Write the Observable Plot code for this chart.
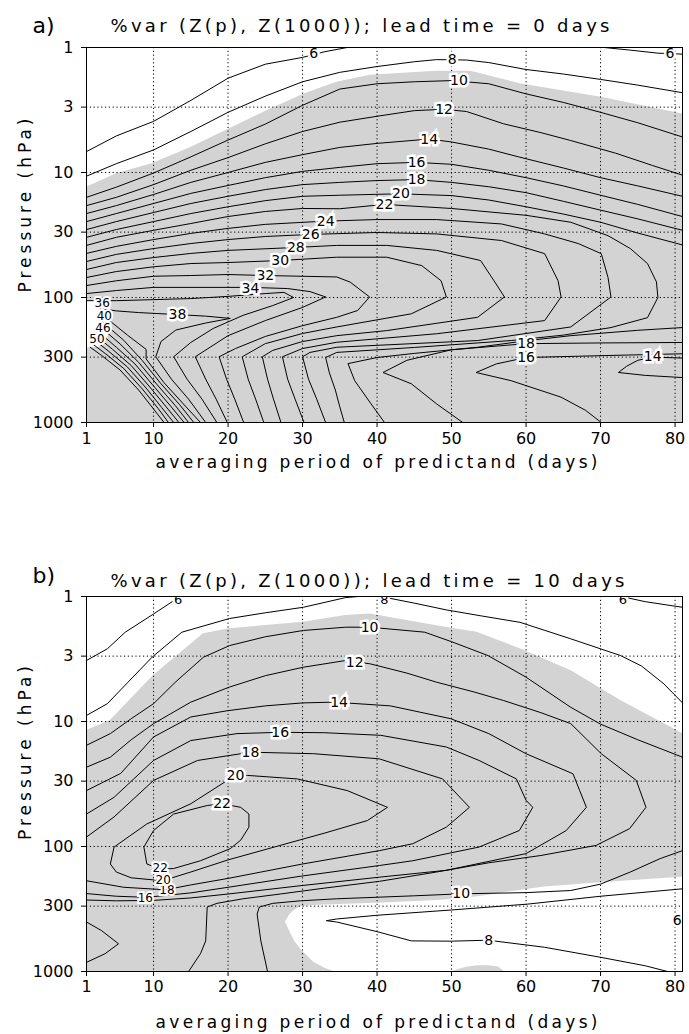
<!DOCTYPE html>
<html><head><meta charset="utf-8">
<script src="https://cdn.jsdelivr.net/npm/d3@7"></script>
<script src="https://cdn.jsdelivr.net/npm/@observablehq/plot@0.6"></script>
<style>
body{margin:0;background:#fff;}
#chart svg{display:block;}
</style></head><body><div id="chart"></div>
<script>
// ---------- axes ----------
const xTicks = [1,10,20,30,40,50,60,70,80];
const yTicks = [1,3,10,30,100,300,1000];
const xGrid = [10,20,30,40,50,60,70,80];
const yGrid = [3,10,30,100,300];
const titleA = "%var (Z(p), Z(1000)); lead time = 0 days";
const titleB = "%var (Z(p), Z(1000)); lead time = 10 days";
const xLabel = "averaging period of predictand (days)";
const yLabel = "Pressure (hPa)";

// ---------- panel a: shading (x, p) ----------
const aGreyTop = [[1,13.1],[5.1,10.2],[9.8,8.5],[15,6.3],[20.2,4.47],[25.3,3.19],[30.2,2.35],[34.6,1.9],[39.1,1.67],[48,1.55],[52.6,1.55],[59.2,1.95],[70.1,2.5],[81,3.4]];
const aWhiteZone = [[106,1],[108,3.5],[112,4.2],[150,4.4],[183,4.4],[220,3.6],[251,2.7],[252,1]]; // [p, x right]

// ---------- panel a: contour lines [x, p] ----------
const a06_1 = [[1,6.8],[5,5.1],[10,3.9],[15,2.65],[20,1.76],[25,1.36],[30,1.2],[33,1.08],[36,1.0]];
const a06_2 = [[70.5,1.0],[74,1.05],[77.7,1.11],[81,1.13]];
const a08 = [[1,10.7],[5,8.5],[10,6.6],[15,4.7],[20,3.3],[25,2.45],[30,1.88],[35,1.58],[40,1.42],[45,1.3],[48,1.25],[52,1.26],[55,1.32],[60,1.5],[65,1.63],[70,1.8],[75,2.0],[81,2.3]];
const a10 = [[1,15.8],[5,13.1],[10,10.1],[15,7.5],[20,5.5],[25,4.1],[30,2.9],[35,2.15],[40,1.95],[45,1.88],[50,1.84],[55,1.95],[60,2.35],[65,2.75],[70,3.3],[75,4.0],[81,5.2]];
const a12 = [[1,18.4],[5,15.8],[10,12.5],[15,9.6],[20,7.6],[25,5.9],[30,4.7],[35,3.96],[40,3.55],[45,3.2],[49,3.12],[52,3.25],[57,4.08],[62,4.8],[66,5.55],[72,7.0],[77,8.8],[81,10.5]];
const a14 = [[1,21.3],[5,18.4],[10,15],[15,12],[20,10],[25,8.3],[30,7.2],[35,6.3],[40,5.85],[47,5.4],[50,5.7],[55,6.5],[59,7.5],[65,9.2],[70,11],[75,12.8],[81,15.5]];
const a16 = [[1,24.7],[5,21.3],[10,17.7],[15,14.7],[20,12.7],[25,11],[30,9.8],[35,9.1],[40,8.5],[45.3,8.3],[50,8.6],[55,9.6],[60,11],[65,12.8],[70,15.2],[75,18],[81,22.5]];
const a18 = [[1,28.6],[5,24.7],[10,20.9],[15,17.7],[20,15.5],[25,13.7],[30,12.5],[35,12],[40,11.6],[45.3,11.4],[50,12],[55,13],[60,14.5],[65,17],[70,20],[75,23.5],[81,29]];
const a20 = [[1,33],[5,28.6],[10,24.7],[15,21.3],[20,18.8],[25,16.8],[30,15.5],[35,15.2],[43,14.8],[50,15.3],[55,16.6],[60,18.8],[65,21.5],[70,25],[75,30.5],[81,38]];
const a22 = [[1,38.3],[5,33],[10,29],[15,25.6],[20,22.5],[25,20.5],[30,19.4],[35,19.5],[41,18],[50,19.4],[60,22],[66,25],[71,32],[74,40.6],[76.3,53.5],[77.5,75],[77.7,100],[76.3,145],[71.4,174],[65,200],[58,221],[45,251],[34.6,275],[33.1,302],[33.6,400],[34.4,550],[35,750],[35.6,1000]];
const a24 = [[1,44.4],[5,39],[10,34.4],[15,30.7],[20,28],[25,26],[33,24.5],[40,23.8],[48,23.8],[56.7,25.8],[62.5,31],[67,37],[70.1,44.6],[71,69],[71.4,99],[66,172],[53.5,221],[34.6,250],[31,275],[30,298],[30.8,450],[31.9,650],[33.1,1000]];
const a26 = [[1,51.5],[5,45.2],[10,40.6],[15,37],[20,34.4],[25,32.5],[31,31.3],[40,30.2],[48,31],[56.7,35],[62.5,44.6],[64.3,73.5],[64.7,99],[62.5,153],[48,195],[34.6,228],[30,256],[27.3,298],[28,450],[29,650],[30.2,1000]];
const a28 = [[1,59.7],[5,52.5],[10,47.9],[15,44.4],[20,42],[29,39.8],[34.6,38.3],[41.3,38.3],[48,42],[53.9,50.6],[55.7,73.5],[57.1,99],[53.5,144],[41.3,184],[34.6,202],[30,225],[26,265],[24.6,298],[25.3,450],[26.1,650],[27.1,1000]];
const a30 = [[1,69.2],[5,62],[10,56.8],[15,53.5],[20,52.5],[27,50.6],[34.6,47.6],[41.3,47.6],[46,55.6],[48.6,73.5],[49.3,99],[44.6,135],[34.6,172],[30,194],[25,234],[21.9,298],[22.7,450],[23.7,650],[24.8,1000]];
const a32 = [[1,80.2],[5,73.5],[10,67.6],[15,66.7],[20,65.5],[25,66.7],[34.6,68.5],[36.4,75.4],[39,99],[37.4,127],[34.6,144],[30,168],[25,205],[21,256],[18.8,298],[19.8,450],[20.9,650],[22.1,1000]];
const a34 = [[1,93],[5,88],[10,83],[20,83],[23,83],[28,84.8],[31,89.7],[33.1,99],[30,120],[25,153],[20,202],[15.6,298],[17,450],[18.4,650],[19.9,1000]];
const a36 = [[1,106],[5,106],[10,104],[15,102],[20,98],[25,93],[27.5,91],[28.8,100],[26,116],[22,139],[18,177],[15,229],[12.7,298],[14.5,450],[16.5,650],[18.5,1000]];
const a38 = [[2.5,122],[5,128],[8,132],[13.2,137],[17,141],[20.3,147],[17,160],[13,182],[11,225],[10.3,298],[12.4,450],[14.7,650],[17,1000]];
const a40 = [[3.6,145],[6.5,200],[9,260],[9,310],[11.4,480],[14,710],[16.3,1000]];
const a42 = [[3.3,160],[6,220],[8.5,320],[11,490],[13.5,720],[15.4,1000]];
const a44 = [[3,175],[5.5,235],[8,330],[10.5,500],[12.9,730],[14.7,1000]];
const a46 = [[2.7,190],[5,250],[7.5,340],[10,510],[12.3,740],[14.1,1000]];
const a48 = [[2.4,205],[4.5,260],[7,350],[9.5,520],[11.7,750],[13.4,1000]];
const a50 = [[2.1,220],[4,270],[6.5,360],[9,530],[11.1,760],[12.7,1000]];
const a52 = [[1.8,235],[3.5,280],[6,370],[8.5,540],[10.6,770],[12,1000]];
const a54 = [[1.5,250],[3,290],[5.5,380],[8,550],[10,780],[11.4,1000]];
const a20b = [[81,174],[75,183],[66,202],[60,222],[53.5,250],[45,280],[40,302],[36.1,338],[37,463],[39.2,710],[41,1000]];
const a18b = [[81,229],[70,231],[60,234],[50,262],[44,318],[40.8,398],[44.6,490],[48,710],[51.5,1000]];
const a16b = [[81,282],[70,292],[60,302],[56,340],[53.3,398],[58,463],[64.7,627],[68,800],[70.1,1000]];
const a14b = [[81,305],[77,300],[75,318],[73.5,355],[72.4,398],[76,420],[81,437]];
const aLabels = [["6",31.5,1.12],["6",79.3,1.12],["8",50.1,1.25],["10",51,1.84],["12",49,3.15],["14",47,5.4],["16",45.3,8.3],["18",45.3,11.4],["20",43.2,14.8],["22",41,18],["24",33.1,24.5],["26",31.1,31.3],["28",29.1,40],["30",27,50.6],["32",25,66.7],["34",23,84],["38",13.2,137],["16",60,302],["18",60,232],["14",77,296]];
const aLabelsDense = [["50",2.4,214],["46",3.2,176],["40",3.4,141],["36",3.1,112]];

// ---------- panel b: shading ----------
const bGreyTop = [[1,11.8],[4.2,9.8],[10,4.28],[16.7,1.99],[20.2,1.81],[30.1,1.61],[35.8,1.42],[39.1,1.38],[48,1.71],[53.4,1.93],[59.2,2.62],[66,3.9],[72.7,6.8],[81,12.5]];
const bWhiteLow = [[27.7,402,402],[28.3,350,480],[29,320,580],[29.9,302,680],[31.5,297,842],[33,294,940],[34.2,292,1000],[35.6,290,1000],[40,284,1000],[48,271,1000],[50.1,266,1000],[51,262,960],[52,258,925],[53.5,252,900],[55,245,898],[56.3,238,920],[57.1,233,1000],[62.5,211,1000],[70,195,1000],[80.8,176,1000],[81,176,1000]];

// ---------- panel b: contour lines ----------
const b06a = [[1,3.25],[3.8,2.62],[6.2,1.93],[10,1.38],[12.7,1.08],[14,1.0]];
const b06b = [[72.8,1.0],[76,1.1],[81,1.22]];
const b08 = [[1,8.95],[3.8,7.2],[6.5,4.9],[9.8,3.06],[13.8,1.93],[20.2,1.5],[25,1.35],[30.1,1.22],[35.8,1.02],[37.5,1.0],[40.5,1.0],[45,1.13],[49.3,1.28],[54,1.43],[59.2,1.61],[66,2.18],[72.7,2.97],[75.5,3.6],[78.5,5],[81,7.1]];
const b10 = [[1,15.5],[4.2,12.5],[7,9.5],[10,7.2],[13,4.8],[16.7,3.06],[20.2,2.47],[25,2.1],[30.1,1.87],[35.8,1.76],[39,1.76],[46.4,1.93],[50,2.3],[54.9,2.97],[60,4.42],[66,7.7],[70,10.5],[75,14],[81,19.3]];
const b12 = [[1,23.2],[4.2,19.3],[7,14],[10,10.4],[15,7.0],[20.2,5.3],[25,4.3],[30.1,3.68],[35.8,3.25],[39.1,3.46],[44,4.1],[48,4.85],[53,5.8],[57,6.8],[62,8.5],[66,10.4],[70.1,18.1],[74.8,29.6],[76.1,48.6],[73.9,72],[69.4,98],[62,118],[55,135],[48,160],[40.3,190],[33,215],[27,240],[22,262],[18.5,285],[17.2,305],[17,569],[16.3,720],[14.7,1000]];
const b14 = [[1,35.7],[5.6,26],[10,13.3],[15,9.2],[19.9,8.2],[25,7.5],[30,7.1],[34.2,7.0],[41.8,7.5],[49.9,9.5],[55,12.5],[60,18.1],[66.3,26.2],[67.2,35.7],[68.1,48.6],[65.4,74.5],[60,114],[49.3,155],[40.3,176],[30,205],[20,240],[15,258],[10,270],[5,272],[1,268]];
const b16 = [[1,55],[4.7,40.4],[10,20.5],[15,14.2],[21.2,12.5],[27,12.2],[33,12.3],[40.5,12.9],[49.3,16],[53.7,20.5],[58.7,28.8],[60,42.7],[60.9,48.6],[59.1,74.5],[53.7,101],[44.8,130],[40.3,142],[30,172],[20,212],[15,235],[9.1,255],[5,250],[1,238]];
const b18 = [[1,84],[4.7,58],[10,29.6],[15.9,20.5],[23,17.6],[31.5,18.1],[40.3,19.9],[48.8,28.8],[52.4,48.6],[49.3,70],[44.8,95],[40.3,108],[30,138],[20,180],[15,203],[11.6,222],[6,212],[1,188]];
const b20 = [[21,27],[22.6,27],[29.3,28.8],[36,35.7],[41.4,48.6],[38.7,62],[33,78],[27,98],[20,128],[15,160],[11.2,188],[7,178],[5,160],[4.2,138],[4.7,101],[9.1,66],[15,45.5],[19.9,29.6],[21,27]];
const b22 = [[19.2,45.5],[21.7,48.6],[22.8,55],[22.8,70],[21.7,89],[20.3,104],[16.3,130],[12.7,150],[10.9,152],[9.1,138],[8.7,101],[10,74.5],[12.7,55],[17.2,47],[19.2,45.5]];
const b10b = [[81,108],[78,125],[74,160],[70,200],[66,225],[60,234],[51.3,239],[45,248],[34.6,262],[29.7,272],[26,285],[24.2,305],[23.9,347],[24.4,569],[25.3,1000]];
const b08b = [[81,218],[70,250],[60.2,289],[50,322],[40,355],[34.6,380],[33.2,392],[34.6,402],[40,480],[44.6,569],[50,572],[54.9,562],[62.5,640],[70,770],[76,900],[79,1000]];
const b06c = [[81,360],[79.6,390],[81,420]];
const bV = [[1,402],[3,470],[5.3,600],[3.5,720],[1,845]];
const bLabels = [["10",39,1.76],["12",37,3.35],["14",34.9,7.0],["16",27,12.2],["18",23,17.6],["20",21,27],["22",19.2,45.5],["10",51.3,239],["8",55,560],["6",80.3,390]];
const bLabelsStack = [["16",8.9,259],["18",11.8,225],["20",11.3,187],["22",10.9,149]];
const bLabelsTop = [["6",13.3,1.06],["8",41,1.06],["6",73,1.06]];

// ---------- build ----------
function table(list){ return list.flatMap(([id, pts]) => pts.map(([x, p]) => ({id, x, p}))); }
const linesA = table([["a06_1",a06_1],["a06_2",a06_2],["a08",a08],["a10",a10],["a12",a12],["a14",a14],["a16",a16],["a18",a18],["a20",a20],["a22",a22],["a24",a24],["a26",a26],["a28",a28],["a30",a30],["a32",a32],["a34",a34],["a36",a36],["a38",a38],["a40",a40],["a42",a42],["a44",a44],["a46",a46],["a48",a48],["a50",a50],["a52",a52],["a54",a54],["a20b",a20b],["a18b",a18b],["a16b",a16b],["a14b",a14b]]);
const linesB = table([["b06a",b06a],["b06b",b06b],["b08",b08],["b10",b10],["b12",b12],["b14",b14],["b16",b16],["b18",b18],["b20",b20],["b22",b22],["b10b",b10b],["b08b",b08b],["b06c",b06c],["bV",bV]]);

const FONT = "DejaVu Sans";
const GREY = "#d3d3d3";
const labelStyle = {fontFamily: FONT, fill: "black", stroke: "white", strokeWidth: 5, strokeLinejoin: "miter", paintOrder: "stroke"};

function panel({height, mTop, mBottom, tickPad, title, titleLen, tag, tagDy, titleDy, xlabDy, ylabDy, shading, lines, labels, labelsSmall, labelsTop}) {
  const svg = Plot.plot({
    width: 689, height,
    marginLeft: 86, marginRight: 7, marginTop: mTop, marginBottom: mBottom,
    x: {domain: [1, 81]},
    y: {type: "log", domain: [1000, 1]},
    style: {fontFamily: FONT, fontSize: "16px", color: "black", background: "white", overflow: "visible"},
    marks: [
      ...shading,
      Plot.ruleX(xGrid, {stroke: "black", strokeWidth: 1, strokeDasharray: "1.2,2.6"}),
      Plot.ruleY(yGrid, {stroke: "black", strokeWidth: 1, strokeDasharray: "1.2,2.6"}),
      Plot.line(lines, {x: "x", y: "p", z: "id", stroke: "black", strokeWidth: 1}),
      ...(labelsSmall ? [Plot.text(labelsSmall, {x: d => d[1], y: d => d[2], text: d => d[0], fontSize: 12, ...labelStyle, strokeWidth: 4})] : []),
      Plot.text(labels, {x: d => d[1], y: d => d[2], text: d => d[0], fontSize: 14, ...labelStyle}),
      ...(labelsTop ? [Plot.text(labelsTop, {x: d => d[1], y: d => d[2], text: d => d[0], fontSize: 13, ...labelStyle, clip: true})] : []),
      Plot.frame({stroke: "black", strokeWidth: 1}),
      Plot.axisX(xTicks, {tickSize: 5, tickPadding: tickPad, label: null, fontSize: 16, tickFormat: d => String(d)}),
      Plot.axisY(yTicks, {tickSize: 5, tickPadding: 8, label: null, fontSize: 16, tickFormat: d => String(d)}),
      Plot.text([tag], {frameAnchor: "top-left", dx: -54, dy: tagDy, textAnchor: "start", lineAnchor: "bottom", fontSize: 22, fontFamily: FONT}),
      Plot.text([title], {frameAnchor: "top-left", dx: 24, dy: titleDy, textAnchor: "start", lineAnchor: "bottom", fontSize: 18, fontFamily: FONT}),
      Plot.text([xLabel], {frameAnchor: "bottom", dx: -8, dy: xlabDy, textAnchor: "middle", lineAnchor: "bottom", fontSize: 17, fontFamily: FONT}),
      Plot.text([yLabel], {frameAnchor: "left", dx: -56, dy: ylabDy, textAnchor: "middle", lineAnchor: "bottom", rotate: -90, fontSize: 17, fontFamily: FONT})
    ]
  });
  svg.querySelectorAll("text").forEach(t => {
    const s = t.textContent;
    let L = null;
    if (s === title) L = titleLen;
    else if (s === xLabel) L = 442;
    else if (s === yLabel) L = 174;
    if (L) { t.setAttribute("textLength", L); t.setAttribute("lengthAdjust", "spacing"); }
  });
  return svg;
}

const shadingA = [
  Plot.areaY(aGreyTop, {x: d => d[0], y1: d => d[1], y2: 1000, fill: GREY}),
  Plot.areaX(aWhiteZone, {y: d => d[0], x1: 1, x2: d => d[1], fill: "white"})
];
const shadingB = [
  Plot.areaY(bGreyTop, {x: d => d[0], y1: d => d[1], y2: 1000, fill: GREY}),
  Plot.areaY(bWhiteLow, {x: d => d[0], y1: d => d[1], y2: d => d[2], fill: "white"})
];

const el = document.getElementById("chart");
el.appendChild(panel({height: 530, mTop: 47, mBottom: 108, tickPad: 5, title: titleA, titleLen: 499, tag: "a)", tagDy: -15, titleDy: -16, xlabDy: 45, ylabDy: -29.5, shading: shadingA, lines: linesA, labels: aLabels, labelsSmall: aLabelsDense}));
el.appendChild(panel({height: 504, mTop: 66, mBottom: 63, tickPad: 4, title: titleB, titleLen: 514, tag: "b)", tagDy: -14, titleDy: -10, xlabDy: 56, ylabDy: -31, shading: shadingB, lines: linesB, labels: bLabels, labelsSmall: bLabelsStack, labelsTop: bLabelsTop}));
</script></body></html>
